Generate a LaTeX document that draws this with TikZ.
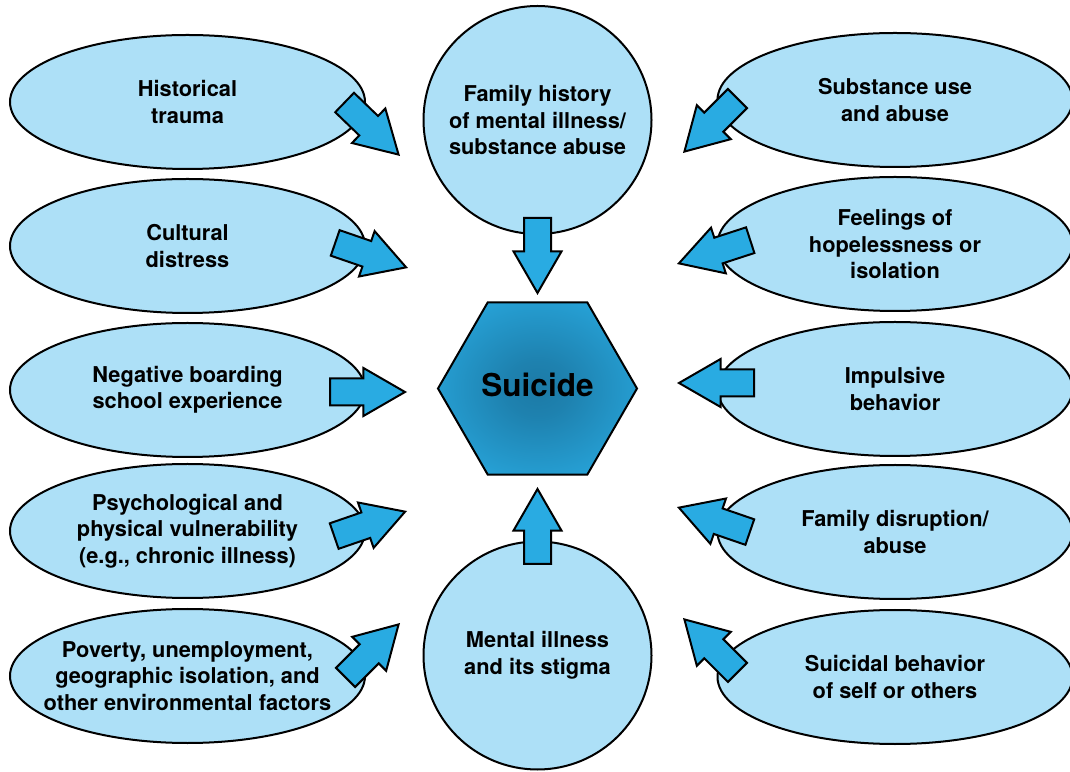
\documentclass[tikz,border=0pt]{standalone}
\usepackage{fontspec}
\setmainfont{TeX Gyre Heros}
\usetikzlibrary{shapes.geometric,shapes.arrows}
\definecolor{paleblue}{HTML}{ADE0F7}
\definecolor{midblue}{HTML}{29ABE2}
\definecolor{deepblue}{HTML}{1C7AA6}
\pgfdeclareradialshading{hexglow}{\pgfpoint{0bp}{0bp}}{color(0bp)=(deepblue); color(8bp)=(deepblue!85!midblue); color(34bp)=(midblue); color(50bp)=(midblue)}
\tikzset{
  factor/.style={draw, ellipse, fill=paleblue, line width=2pt, minimum width=355pt, minimum height=134pt,
    inner xsep=-25pt, inner ysep=0pt, align=center, font=\fontsize{21.8}{26.5}\selectfont\bfseries},
  bigcause/.style={factor, circle, inner sep=0pt, minimum size=228pt},
  hexcore/.style={draw, regular polygon, regular polygon sides=6, minimum size=199pt, inner sep=0pt,
    line width=2pt, shading=hexglow, font=\fontsize{31.5}{36}\selectfont\bfseries},
  fat/.style={single arrow, draw, fill=midblue, line width=2pt, inner sep=12.5pt, single arrow head extend=10.5pt,
    single arrow tip angle=60, single arrow head indent=0pt, minimum width=46pt, minimum height=75pt, anchor=tip}
}
\begin{document}
\begin{tikzpicture}[x=1pt, y=1pt]
  \useasboundingbox (0,0) rectangle (1070,771);
  %nodes
  \node[factor] at (187.5,669) (hist) {Historical\\trauma};
  \node[factor] at (187.5,525) (cult) {Cultural\\distress};
  \node[factor] at (187.5,381) (board) {Negative boarding\\school experience};
  \node[factor] at (187.5,240) (vuln) {Psychological and\\physical vulnerability\\(e.g., chronic illness)};
  \node[factor] at (187.5,95) (pov) {Poverty, unemployment,\\geographic isolation, and\\other environmental factors};
  \node[factor] at (895,671) (subst) {Substance use\\and abuse};
  \node[factor] at (895,527) (hope) {Feelings of\\hopelessness or\\isolation};
  \node[factor] at (895,382) (impuls) {Impulsive\\behavior};
  \node[factor] at (895,239) (disrupt) {Family disruption/\\abuse};
  \node[factor] at (895,94) (selfharm) {Suicidal behavior\\of self or others};
  \node[bigcause] at (537.5,651) (famhist) {Family history\\of mental illness/\\substance abuse};
  \node[bigcause] at (537.5,115.5) (stigma) {Mental illness\\and its stigma};
  \node[hexcore] at (537.5,382.5) (suicide) {Suicide\vphantom{g}};
  % block arrows pointing at the hexagon
  \node[fat, rotate=-44] at (400,615) (ahist) {};
  \node[fat, rotate=-19] at (408,503) (acult) {};
  \node[fat] at (407,379) (aboard) {};
  \node[fat, rotate=19] at (407,260) (avuln) {};
  \node[fat, rotate=45] at (400,148) (apov) {};
  \node[fat, rotate=225] at (683,618) (asubst) {};
  \node[fat, rotate=198] at (677,507) (ahope) {};
  \node[fat, rotate=180] at (677,388) (aimpuls) {};
  \node[fat, rotate=161] at (677,264) (adisrupt) {};
  \node[fat, rotate=135] at (683,153) (aselfharm) {};
  \node[fat, rotate=-90] at (537.5,476) (afamhist) {};
  \node[fat, rotate=90] at (537.5,284) (astigma) {};
\end{tikzpicture}
\end{document}
